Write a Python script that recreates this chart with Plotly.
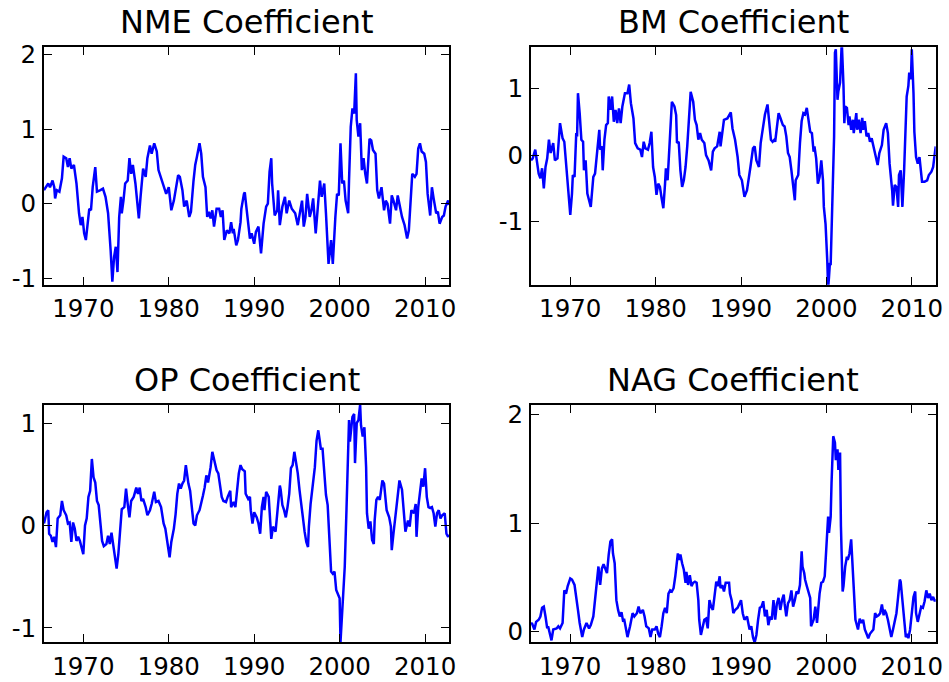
import plotly.graph_objects as go

# ---------------- data ----------------
nme_year = [1965.4,1965.5,1965.9,1966.1,1966.4,1966.6,1966.7,1966.9,1967.2,1967.5,1967.7,1968.0,1968.2,1968.4,1968.6,1968.9,
            1969.2,1969.5,1969.7,1969.9,1970.1,1970.3,1970.5,1970.7,1970.9,1971.1,1971.4,1971.6,1972.0,1972.3,1972.6,1972.9,
            1973.2,1973.4,1973.6,1973.8,1974.0,1974.2,1974.4,1974.5,1974.7,1974.9,1975.2,1975.4,1975.6,1975.8,1976.1,1976.3,
            1976.5,1976.7,1977.0,1977.3,1977.5,1977.8,1978.0,1978.3,1978.6,1978.8,1979.1,1979.4,1979.7,1980.0,1980.3,1980.6,
            1980.9,1981.1,1981.3,1981.6,1981.8,1982.1,1982.4,1982.6,1982.9,1983.1,1983.3,1983.6,1983.8,1984.0,1984.3,1984.5,
            1984.7,1984.9,1985.1,1985.3,1985.6,1985.9,1986.1,1986.3,1986.5,1986.8,1987.1,1987.3,1987.5,1987.6,1987.9,1988.1,
            1988.4,1988.5,1988.8,1988.9,1989.0,1989.3,1989.5,1989.7,1990.0,1990.2,1990.5,1990.8,1991.1,1991.4,1991.6,1991.8,
            1992.0,1992.1,1992.4,1992.7,1992.8,1993.0,1993.3,1993.6,1993.8,1994.1,1994.4,1994.8,1995.1,1995.4,1995.6,1995.8,
            1996.0,1996.2,1996.5,1996.7,1996.9,1997.2,1997.4,1997.7,1997.9,1998.2,1998.4,1998.7,1999.0,1999.2,1999.5,1999.7,
            1999.9,2000.1,2000.3,2000.5,2000.7,2001.0,2001.1,2001.3,2001.5,2001.7,2001.9,2002.0,2002.2,2002.4,2002.6,2002.8,
            2003.0,2003.2,2003.5,2003.7,2003.9,2004.2,2004.4,2004.6,2004.9,2005.2,2005.4,2005.6,2005.9,2006.1,2006.3,2006.6,
            2006.8,2007.0,2007.3,2007.6,2007.9,2008.1,2008.3,2008.5,2008.8,2009.0,2009.2,2009.4,2009.6,2009.9,2010.1,2010.3,
            2010.6,2010.8,2011.0,2011.3,2011.5,2011.7,2012.0,2012.2,2012.4,2012.7,2012.8]
nme_val = [0.18,0.20,0.27,0.22,0.31,0.22,0.07,0.18,0.16,0.34,0.63,0.61,0.49,0.61,0.47,0.52,
           0.27,-0.13,-0.29,-0.18,-0.40,-0.49,-0.29,-0.07,-0.09,0.22,0.49,0.16,0.18,0.20,0.09,-0.13,
           -0.63,-1.05,-0.72,-0.58,-0.92,-0.18,0.09,-0.13,0.04,0.27,0.31,0.61,0.40,0.52,0.27,0.04,
           -0.20,0.09,0.47,0.36,0.61,0.78,0.67,0.81,0.70,0.45,0.34,0.22,0.13,0.22,-0.09,0.04,
           0.25,0.38,0.36,0.18,-0.04,0.04,-0.18,-0.11,0.31,0.52,0.63,0.81,0.67,0.36,0.22,-0.18,
           -0.11,-0.20,-0.09,-0.31,-0.07,-0.07,-0.18,-0.09,-0.49,-0.36,-0.40,-0.25,-0.40,-0.34,-0.56,-0.49,
           -0.25,-0.07,0.13,0.15,0.04,-0.25,-0.47,-0.40,-0.54,-0.38,-0.31,-0.67,-0.27,-0.04,0.00,0.43,
           0.61,0.27,-0.16,-0.09,0.18,-0.29,-0.04,0.09,-0.13,0.04,-0.07,-0.13,-0.29,-0.09,0.04,-0.31,
           -0.18,0.13,-0.18,-0.09,0.07,-0.40,-0.09,0.31,0.09,0.27,-0.13,-0.81,-0.49,-0.81,-0.18,0.13,
           0.11,0.81,0.27,0.31,0.04,-0.13,0.31,1.03,1.28,1.21,1.75,1.12,0.90,1.08,0.45,0.61,
           0.40,0.27,0.87,0.85,0.72,0.67,0.18,0.07,0.22,-0.09,0.04,0.00,-0.27,0.11,0.04,-0.09,
           0.11,0.00,-0.18,-0.29,-0.47,-0.36,0.00,0.40,0.36,0.40,0.74,0.81,0.70,0.67,0.56,0.13,
           -0.16,0.22,0.07,-0.13,-0.11,-0.27,-0.18,-0.16,-0.04,0.04,-0.02]

bm_year = [1965.4,1965.6,1965.9,1966.1,1966.3,1966.5,1966.7,1966.9,1967.1,1967.3,1967.5,1967.7,1968.0,1968.2,1968.5,1968.8,
           1969.1,1969.3,1969.5,1969.7,1970.0,1970.2,1970.3,1970.5,1970.7,1970.8,1970.9,1971.1,1971.3,1971.5,1971.6,1971.8,
           1972.0,1972.2,1972.4,1972.5,1972.7,1972.9,1973.0,1973.2,1973.4,1973.5,1973.7,1973.8,1974.0,1974.2,1974.4,1974.5,
           1974.7,1974.9,1975.1,1975.3,1975.5,1975.7,1975.9,1976.1,1976.4,1976.7,1976.9,1977.1,1977.4,1977.6,1977.9,1978.2,
           1978.4,1978.6,1978.8,1979.1,1979.3,1979.5,1979.7,1979.9,1980.1,1980.3,1980.5,1980.7,1980.9,1981.1,1981.2,1981.4,
           1981.6,1981.7,1981.9,1982.2,1982.4,1982.5,1982.7,1982.9,1983.1,1983.3,1983.5,1983.7,1983.9,1984.1,1984.4,1984.6,
           1984.8,1985.0,1985.2,1985.4,1985.7,1985.9,1986.2,1986.5,1986.7,1986.9,1987.2,1987.5,1987.6,1987.8,1988.0,1988.4,
           1988.6,1988.8,1989.0,1989.3,1989.6,1989.8,1990.1,1990.4,1990.7,1990.9,1991.1,1991.4,1991.6,1991.8,1992.1,1992.3,
           1992.6,1992.8,1993.1,1993.3,1993.5,1993.7,1993.9,1994.0,1994.2,1994.4,1994.6,1994.9,1995.1,1995.3,1995.5,1995.7,
           1995.9,1996.1,1996.3,1996.4,1996.7,1996.9,1997.1,1997.3,1997.5,1997.7,1997.9,1998.1,1998.3,1998.5,1998.6,1998.8,
           1999.0,1999.2,1999.4,1999.6,1999.7,1999.9,2000.1,2000.2,2000.3,2000.4,2000.5,2000.7,2000.9,2001.0,2001.1,2001.3,
           2001.4,2001.6,2001.8,2002.0,2002.1,2002.2,2002.4,2002.6,2002.7,2002.9,2003.1,2003.2,2003.5,2003.6,2003.8,2004.0,
           2004.2,2004.3,2004.5,2004.7,2004.9,2005.1,2005.3,2005.6,2005.8,2006.0,2006.2,2006.5,2006.7,2007.0,2007.2,2007.4,
           2007.7,2007.8,2008.0,2008.2,2008.4,2008.5,2008.7,2008.9,2009.1,2009.3,2009.4,2009.6,2009.7,2009.9,2010.0,2010.2,
           2010.3,2010.5,2010.7,2010.9,2011.0,2011.2,2011.5,2011.8,2012.0,2012.3,2012.5,2012.7,2012.8]
bm_val = [-0.08,-0.05,0.08,-0.10,-0.28,-0.35,-0.20,-0.50,-0.18,-0.05,0.23,0.03,0.18,-0.08,-0.05,0.48,
          0.25,0.20,-0.08,-0.48,-0.90,-0.58,-0.30,-0.33,0.33,0.28,0.93,0.63,0.23,0.20,-0.23,-0.08,
          -0.58,-0.68,-0.78,-0.63,-0.33,-0.28,-0.13,0.13,0.38,0.08,0.13,-0.23,0.23,0.45,0.48,0.88,
          0.68,0.88,0.50,0.68,0.48,0.70,0.48,0.73,0.93,0.93,1.06,0.78,0.55,0.18,0.10,0.08,
          -0.03,0.20,0.10,0.08,0.18,0.35,-0.18,-0.33,-0.60,-0.43,-0.48,-0.65,-0.80,-0.43,-0.20,-0.38,
          0.03,0.35,0.80,0.73,0.60,0.18,0.20,-0.23,-0.48,-0.38,-0.18,0.13,0.55,0.95,0.80,0.53,
          0.45,0.23,0.33,0.23,0.18,0.00,-0.08,-0.23,0.05,0.10,0.13,0.35,0.13,0.33,0.53,0.55,
          0.60,0.64,0.40,0.23,-0.03,-0.30,-0.38,-0.63,-0.53,-0.38,-0.18,0.10,0.13,-0.08,-0.18,0.18,
          0.40,0.61,0.76,0.48,0.23,0.20,0.23,0.20,0.43,0.63,0.56,0.45,0.43,0.28,0.03,-0.03,
          -0.23,-0.48,-0.68,-0.38,-0.30,0.18,0.51,0.63,0.61,0.71,0.56,0.35,0.33,0.05,0.13,-0.05,
          -0.43,-0.33,-0.08,-0.38,-0.78,-1.04,-1.59,-2.00,-1.84,-1.64,-1.64,-0.73,0.28,1.54,1.59,0.83,
          0.96,1.09,1.70,1.04,0.48,0.73,0.71,0.45,0.58,0.38,0.53,0.33,0.63,0.38,0.53,0.33,
          0.56,0.38,0.51,0.28,0.33,0.20,0.25,0.08,-0.05,-0.15,0.03,0.15,0.38,0.48,0.33,-0.13,
          -0.53,-0.76,-0.45,-0.48,-0.78,-0.30,-0.23,-0.78,-0.23,0.48,0.88,1.04,1.24,1.14,1.59,0.93,
          0.35,-0.03,-0.13,-0.03,-0.18,-0.40,-0.40,-0.38,-0.30,-0.25,-0.18,0.03,0.13]

op_year = [1965.4,1965.5,1965.7,1965.9,1966.0,1966.2,1966.4,1966.6,1966.8,1967.0,1967.3,1967.5,1967.7,1968.0,1968.2,1968.4,
           1968.6,1968.8,1969.0,1969.2,1969.4,1969.6,1969.8,1970.0,1970.2,1970.4,1970.6,1970.8,1971.0,1971.2,1971.4,1971.6,
           1971.8,1972.0,1972.2,1972.4,1972.7,1972.9,1973.1,1973.3,1973.5,1973.7,1973.9,1974.1,1974.3,1974.5,1974.8,1975.0,
           1975.2,1975.4,1975.6,1975.9,1976.2,1976.4,1976.6,1976.8,1977.0,1977.3,1977.5,1977.8,1978.0,1978.3,1978.5,1978.8,
           1979.1,1979.4,1979.6,1979.9,1980.1,1980.3,1980.6,1980.8,1981.0,1981.2,1981.4,1981.6,1981.8,1982.0,1982.2,1982.3,
           1982.5,1982.7,1982.9,1983.1,1983.3,1983.6,1983.8,1984.0,1984.2,1984.4,1984.6,1984.9,1985.1,1985.4,1985.6,1985.8,
           1986.0,1986.2,1986.4,1986.7,1986.9,1987.2,1987.3,1987.6,1987.8,1988.0,1988.2,1988.4,1988.6,1988.9,1989.0,1989.3,
           1989.5,1989.6,1989.8,1990.0,1990.3,1990.5,1990.7,1990.9,1991.1,1991.2,1991.4,1991.7,1991.9,1992.0,1992.2,1992.5,
           1992.7,1993.0,1993.1,1993.3,1993.5,1993.7,1993.9,1994.1,1994.3,1994.5,1994.7,1994.9,1995.1,1995.3,1995.5,1995.7,
           1995.9,1996.1,1996.3,1996.4,1996.6,1996.9,1997.1,1997.3,1997.5,1997.6,1997.8,1998.0,1998.2,1998.4,1998.6,1998.8,
           1999.0,1999.2,1999.4,1999.6,1999.7,2000.0,2000.1,2000.3,2000.4,2000.6,2000.8,2001.0,2001.1,2001.2,2001.4,2001.5,
           2001.7,2001.8,2002.0,2002.2,2002.4,2002.5,2002.7,2002.9,2003.1,2003.2,2003.4,2003.6,2003.8,2004.0,2004.1,2004.3,
           2004.5,2004.7,2005.0,2005.2,2005.5,2005.8,2006.0,2006.1,2006.3,2006.6,2006.8,2007.0,2007.3,2007.5,2007.7,2008.0,
           2008.2,2008.4,2008.7,2008.9,2009.0,2009.2,2009.4,2009.6,2009.8,2010.0,2010.2,2010.4,2010.6,2010.8,2011.0,2011.2,
           2011.4,2011.6,2011.8,2012.0,2012.3,2012.5,2012.7,2012.8]
op_val = [0.02,0.05,0.13,0.15,-0.08,-0.10,-0.16,-0.11,-0.21,0.07,0.10,0.24,0.15,0.10,0.02,0.03,
          -0.16,0.03,-0.03,-0.15,-0.11,-0.15,-0.21,-0.28,0.00,0.07,0.28,0.34,0.65,0.47,0.42,0.24,
          0.20,0.02,-0.15,-0.20,-0.18,-0.10,-0.18,-0.07,-0.18,-0.28,-0.42,-0.28,-0.05,0.16,0.18,0.36,
          0.21,0.08,0.24,0.28,0.37,0.31,0.37,0.24,0.26,0.18,0.10,0.15,0.21,0.33,0.23,0.24,
          0.18,0.02,-0.03,-0.18,-0.31,-0.16,-0.03,0.11,0.31,0.41,0.36,0.41,0.44,0.59,0.44,0.41,
          0.34,0.20,0.02,0.00,0.10,0.15,0.21,0.29,0.37,0.49,0.42,0.57,0.72,0.62,0.54,0.51,
          0.39,0.28,0.24,0.23,0.28,0.34,0.18,0.23,0.18,0.37,0.51,0.59,0.55,0.53,0.31,0.26,
          0.28,0.15,0.02,0.13,0.08,0.02,-0.08,0.18,0.28,0.15,0.33,0.28,0.02,-0.13,-0.01,-0.06,
          0.12,0.39,0.35,0.20,0.15,0.08,0.18,0.31,0.56,0.59,0.72,0.62,0.51,0.35,0.18,0.08,
          -0.06,-0.16,-0.21,-0.01,0.21,0.41,0.57,0.83,0.93,0.87,0.75,0.75,0.48,0.30,0.20,-0.14,
          -0.45,-0.47,-0.45,-0.63,-0.65,-0.71,-1.14,-0.83,-0.81,-0.40,0.15,0.96,1.03,0.82,1.01,1.06,
          1.09,0.61,1.00,1.03,1.18,0.98,0.87,0.96,0.57,0.12,-0.03,0.04,-0.14,-0.18,0.05,0.25,
          0.28,0.25,0.44,0.41,0.15,0.08,-0.01,-0.24,-0.08,0.12,0.25,0.44,0.35,0.15,-0.06,0.05,
          -0.01,0.15,0.12,0.21,-0.11,0.18,0.35,0.46,0.38,0.56,0.28,0.18,0.17,0.18,0.12,-0.01,
          0.12,0.15,0.07,0.10,0.12,-0.08,-0.11,-0.09]

nag_year = [1965.4,1965.5,1965.8,1966.0,1966.3,1966.5,1966.7,1966.9,1967.1,1967.3,1967.4,1967.6,1967.8,1968.0,1968.4,1968.6,
            1968.8,1969.1,1969.3,1969.5,1969.7,1970.0,1970.2,1970.5,1970.7,1970.9,1971.1,1971.4,1971.6,1971.9,1972.2,1972.4,
            1972.7,1972.9,1973.1,1973.3,1973.5,1973.7,1973.9,1974.1,1974.3,1974.5,1974.7,1974.9,1975.0,1975.2,1975.4,1975.6,
            1975.8,1976.0,1976.2,1976.3,1976.5,1976.7,1977.0,1977.3,1977.5,1977.8,1978.0,1978.2,1978.5,1978.7,1978.9,1979.2,
            1979.4,1979.6,1979.9,1980.1,1980.3,1980.5,1980.7,1980.9,1981.1,1981.3,1981.5,1981.7,1981.9,1982.1,1982.3,1982.5,
            1982.6,1982.8,1982.9,1983.1,1983.3,1983.5,1983.6,1983.8,1984.0,1984.2,1984.4,1984.6,1984.8,1985.0,1985.1,1985.3,
            1985.5,1985.7,1985.9,1986.1,1986.3,1986.5,1986.7,1986.9,1987.1,1987.3,1987.5,1987.6,1987.8,1988.0,1988.2,1988.4,
            1988.6,1988.7,1988.9,1989.1,1989.3,1989.6,1989.8,1990.0,1990.2,1990.4,1990.7,1990.9,1991.0,1991.2,1991.4,1991.6,
            1991.8,1992.0,1992.2,1992.4,1992.6,1992.8,1993.0,1993.2,1993.4,1993.6,1993.8,1994.0,1994.2,1994.4,1994.6,1994.8,
            1995.0,1995.1,1995.3,1995.5,1995.7,1995.9,1996.1,1996.3,1996.5,1996.7,1996.9,1997.1,1997.2,1997.4,1997.5,1997.7,
            1997.9,1998.1,1998.2,1998.5,1998.7,1998.9,1999.0,1999.2,1999.4,1999.6,1999.8,2000.0,2000.2,2000.3,2000.5,2000.6,
            2000.8,2001.0,2001.1,2001.3,2001.4,2001.6,2001.7,2001.9,2002.0,2002.2,2002.4,2002.5,2002.7,2002.9,2003.1,2003.2,
            2003.4,2003.5,2003.7,2003.9,2004.1,2004.3,2004.5,2004.7,2004.9,2005.1,2005.3,2005.5,2005.7,2005.9,2006.1,2006.3,
            2006.5,2006.7,2006.8,2007.0,2007.2,2007.4,2007.6,2007.8,2008.0,2008.2,2008.4,2008.6,2008.7,2008.9,2009.1,2009.3,
            2009.5,2009.6,2009.8,2010.0,2010.2,2010.4,2010.5,2010.7,2010.9,2011.1,2011.3,2011.5,2011.7,2011.9,2012.1,2012.3,
            2012.5,2012.7,2012.8]
nag_val = [0.07,0.08,0.02,0.09,0.11,0.14,0.22,0.23,0.14,0.03,0.05,-0.02,-0.08,0.02,0.03,0.05,
           0.03,0.08,0.38,0.35,0.42,0.49,0.48,0.43,0.29,0.20,0.08,-0.05,0.02,0.08,0.03,0.06,
           0.14,0.29,0.42,0.60,0.43,0.58,0.62,0.57,0.54,0.71,0.83,0.85,0.72,0.63,0.29,0.20,
           0.14,0.18,0.09,0.12,0.05,-0.05,0.05,0.17,0.14,0.17,0.23,0.17,0.20,0.14,0.05,0.03,
           -0.05,0.02,0.02,0.05,-0.02,-0.05,0.05,0.17,0.22,0.17,0.35,0.38,0.37,0.40,0.51,0.63,
           0.72,0.66,0.71,0.63,0.57,0.45,0.55,0.43,0.52,0.42,0.45,0.46,0.45,0.29,0.11,-0.03,
           0.05,0.11,0.12,0.03,0.29,0.23,0.20,0.35,0.46,0.42,0.51,0.40,0.43,0.37,0.45,0.45,
           0.45,0.35,0.29,0.17,0.20,0.22,0.26,0.29,0.17,0.11,0.14,0.05,0.02,0.05,-0.05,-0.10,
           -0.03,0.11,0.22,0.23,0.28,0.14,0.20,0.06,0.14,0.11,0.29,0.11,0.26,0.31,0.20,0.29,
           0.34,0.26,0.14,0.26,0.29,0.38,0.23,0.29,0.37,0.35,0.43,0.74,0.60,0.54,0.48,0.42,
           0.35,0.31,0.05,0.11,0.23,0.08,0.17,0.35,0.45,0.46,0.51,0.85,1.06,0.91,1.06,1.37,
           1.80,1.74,1.58,1.68,1.49,1.65,0.97,0.37,0.42,0.60,0.69,0.66,0.72,0.85,0.54,0.29,
           0.11,0.08,0.02,0.12,0.08,0.11,0.02,-0.02,-0.06,-0.02,0.00,0.02,0.17,0.14,0.15,0.17,
           0.25,0.15,0.20,0.17,0.11,0.02,-0.05,0.02,0.11,0.17,0.32,0.48,0.46,0.29,0.11,-0.05,
           -0.02,-0.06,0.02,0.17,0.32,0.37,0.17,0.09,0.17,0.23,0.22,0.28,0.38,0.31,0.35,0.29,
           0.32,0.28,0.30]

titles = ["NME Coefficient", "BM Coefficient", "OP Coefficient", "NAG Coefficient"]
x_ticks = [1970, 1980, 1990, 2000, 2010]
y_ticks = [[-1, 0, 1, 2], [-1, 0, 1], [-1, 0, 1], [0, 1, 2]]
y_ranges = [[-1.09, 2.10], [-1.95, 1.62], [-1.14, 1.18], [-0.098, 2.09]]
x_range = [1965.4, 2012.8]

series = [(nme_year, nme_val), (bm_year, bm_val), (op_year, op_val), (nag_year, nag_val)]

# ---------------- layout geometry ----------------
W, H = 949, 682
xdoms = [[44 / W, 449 / W], [531 / W, 935.7 / W]]
ydoms = [[1 - 284.7 / H, 1 - 47.3 / H], [1 - 642.3 / H, 1 - 404.7 / H]]
FONT = "DejaVu Sans"

fig = go.Figure()
layout = dict(width=W, height=H, margin=dict(l=0, r=0, t=0, b=0, autoexpand=False),
              paper_bgcolor="white", plot_bgcolor="white", showlegend=False,
              font=dict(family=FONT, color="black"))
annotations = []
for i, (xs, ys) in enumerate(series):
    n = "" if i == 0 else str(i + 1)
    row, col = divmod(i, 2)
    fig.add_trace(go.Scatter(x=xs, y=ys, mode="lines",
                             line=dict(color="#0000ff", width=2.5),
                             xaxis="x" + n, yaxis="y" + n, hoverinfo="skip"))
    axis_common = dict(showline=True, linecolor="black", linewidth=2, mirror="ticks",
                       ticks="inside", ticklen=8, tickwidth=1.3, tickcolor="black",
                       showgrid=False, zeroline=False, automargin=False,
                       tickfont=dict(family=FONT, size=24.5, color="black"))
    layout["xaxis" + n] = dict(axis_common, domain=xdoms[col], range=x_range,
                               tickvals=x_ticks, ticktext=[str(t) for t in x_ticks],
                               anchor="y" + n, ticklabelstandoff=1)
    layout["yaxis" + n] = dict(axis_common, domain=ydoms[row], range=y_ranges[i],
                               tickvals=y_ticks[i], ticktext=[str(t) for t in y_ticks[i]],
                               anchor="x" + n, ticklabelstandoff=1)
    annotations.append(dict(text=titles[i], x=sum(xdoms[col]) / 2, xref="paper",
                            y=ydoms[row][1] + 25 / H, yref="paper",
                            xanchor="center", yanchor="middle", showarrow=False,
                            font=dict(family=FONT, size=32, color="black")))
layout["annotations"] = annotations
fig.update_layout(**layout)
fig.write_html(
    "out.html",
    config={"displayModeBar": False},
    post_script="document.body.style.margin='0';document.body.style.padding='0';"
                "document.body.style.overflow='hidden';",
)
